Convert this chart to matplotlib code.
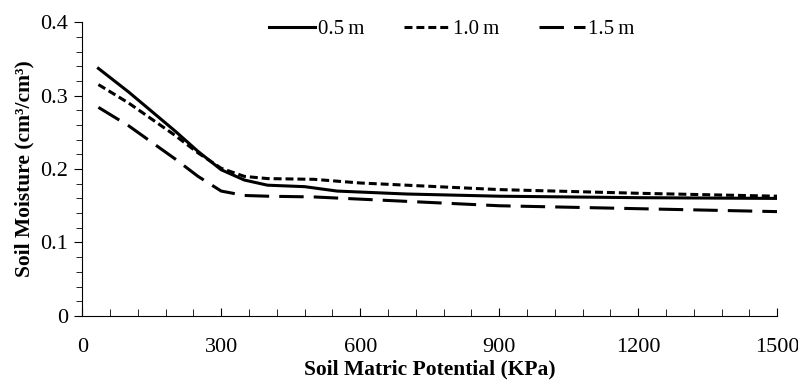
import matplotlib.pyplot as plt
from matplotlib.ticker import MultipleLocator, FuncFormatter

plt.rcParams['font.family'] = ['Liberation Serif', 'DejaVu Serif']

# Soil matric potential (KPa) and moisture (cm3/cm3) for each depth
kpa_05 = [35, 100, 200, 250, 300, 350, 400, 480, 550, 700, 900, 1200, 1500]
sm_05 = [0.337, 0.305, 0.252, 0.224, 0.199, 0.185, 0.178, 0.176, 0.170, 0.166, 0.163, 0.161, 0.160]

kpa_10 = [35, 100, 200, 250, 300, 350, 400, 500, 600, 700, 900, 1200, 1500]
sm_10 = [0.315, 0.290, 0.246, 0.222, 0.201, 0.190, 0.187, 0.186, 0.181, 0.178, 0.172, 0.167, 0.163]

kpa_15 = [35, 100, 200, 250, 300, 350, 400, 500, 700, 900, 1200, 1500]
sm_15 = [0.284, 0.259, 0.214, 0.190, 0.170, 0.164, 0.163, 0.162, 0.156, 0.150, 0.146, 0.142]

labels = ["0.5\u2009m", "1.0\u2009m", "1.5\u2009m"]

fig = plt.figure(figsize=(7.98, 3.82), dpi=100)
ax = fig.add_axes([0.103, 0.173, 0.871, 0.769])

ax.plot(kpa_05, sm_05, color="black", lw=2.2, label=labels[0])
ax.plot(kpa_10, sm_10, color="black", lw=2.2, dashes=(2.6, 1.3), label=labels[1])
ax.plot(kpa_15, sm_15, color="black", lw=2.2, dashes=(8, 3.3), label=labels[2])

ax.set_xlim(0, 1500)
ax.set_ylim(0, 0.4)
ax.xaxis.set_major_locator(MultipleLocator(300))
ax.xaxis.set_minor_locator(MultipleLocator(60))
ax.yaxis.set_major_locator(MultipleLocator(0.1))
ax.yaxis.set_minor_locator(MultipleLocator(0.02))
ax.yaxis.set_major_formatter(FuncFormatter(lambda v, p: "%g" % round(v, 2)))

ax.tick_params(axis="x", which="both", direction="in", labelsize=16, pad=16)
ax.tick_params(axis="x", which="major", length=6)
ax.tick_params(axis="x", which="minor", length=5)
ax.tick_params(axis="y", which="both", direction="out", labelsize=16, pad=4)
ax.tick_params(axis="y", which="major", length=6)
ax.tick_params(axis="y", which="minor", length=4)

ax.spines["top"].set_visible(False)
ax.spines["right"].set_visible(False)

ax.set_xlabel("Soil Matric Potential (KPa)", fontsize=15.5, fontweight="bold", labelpad=2)
ax.set_ylabel("Soil Moisture (cm\u00b3/cm\u00b3)", fontsize=15.5, fontweight="bold", labelpad=4)

ax.legend(loc="upper center", bbox_to_anchor=(0.532, 1.072), ncol=3, frameon=False,
          fontsize=15, handlelength=2.2, handletextpad=0.15, columnspacing=1.9)

fig.savefig("out.png", dpi=100)
